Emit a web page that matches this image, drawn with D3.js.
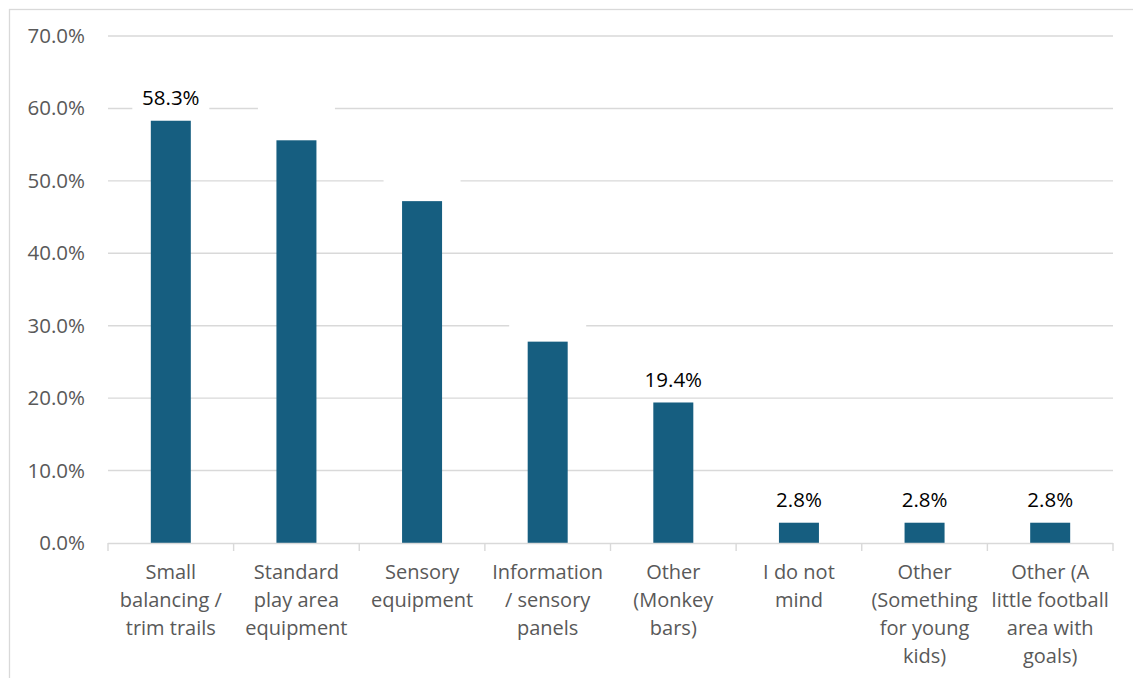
<!DOCTYPE html>
<html><head><meta charset="utf-8">
<script src="https://cdn.jsdelivr.net/npm/d3@7"></script>
<style>body{margin:0;background:#fff;} svg{display:block;}</style>
</head><body>
<svg id="chart" width="1133" height="678"></svg>
<script>
const categories = [
  "Small\nbalancing /\ntrim trails",
  "Standard\nplay area\nequipment",
  "Sensory\nequipment",
  "Information\n/ sensory\npanels",
  "Other\n(Monkey\nbars)",
  "I do not\nmind",
  "Other\n(Something\nfor young\nkids)",
  "Other (A\nlittle football\narea with\ngoals)"
];
const values = [0.583, 0.556, 0.472, 0.278, 0.194, 0.028, 0.028, 0.028];
const showLabel = [true, false, false, false, true, true, true, true];
const yTicks = [0, 0.1, 0.2, 0.3, 0.4, 0.5, 0.6, 0.7];

const FONT = "'Open Sans', sans-serif";
const svg = d3.select("#chart");
const W = 1133, H = 678;

svg.append("rect").attr("x", 9.5).attr("y", 9.5).attr("width", W).attr("height", H)
  .attr("fill", "#fff").attr("stroke", "#d9d9d9").attr("stroke-width", 1.3);

const x = d3.scaleBand().domain(categories).range([108, 1113])
  .paddingInner(0.6816).paddingOuter(0.3408);
const y = d3.scaleLinear().domain([0, 0.7]).range([543, 36]);

// gridlines
svg.append("g").selectAll("line").data(yTicks.filter(d => d > 0)).join("line")
  .attr("x1", 108).attr("x2", 1113)
  .attr("y1", d => y(d)).attr("y2", d => y(d))
  .attr("stroke", "#d9d9d9").attr("stroke-width", 1.4);

// y tick labels
const yAxis = d3.axisLeft(y).tickValues(yTicks).tickFormat(d3.format(".1%")).tickSize(0).tickPadding(0);
const ga = svg.append("g").attr("transform", "translate(85,0)").call(yAxis);
ga.select(".domain").remove();
ga.selectAll("text").attr("font-family", FONT).attr("font-size", 20.5).attr("fill", "#595959");

// label boxes (white background behind data labels)
const step = x.step();
svg.append("g").selectAll("rect").data(values).join("rect")
  .attr("x", (d, i) => x(categories[i]) + x.bandwidth() / 2 - 38.5)
  .attr("y", d => y(d) - 23 - 13)
  .attr("width", 77).attr("height", 26).attr("fill", "#fff");

// bars
svg.append("g").selectAll("rect").data(values).join("rect")
  .attr("x", (d, i) => x(categories[i]))
  .attr("y", d => y(d))
  .attr("width", x.bandwidth())
  .attr("height", d => y(0) - y(d))
  .attr("fill", "#165e80");

// x axis line and ticks
svg.append("line").attr("x1", 108).attr("x2", 1113).attr("y1", 543.5).attr("y2", 543.5)
  .attr("stroke", "#d9d9d9").attr("stroke-width", 1.4);
const edges = d3.range(categories.length + 1).map(i => 108 + i * step);
svg.append("g").selectAll("line").data(edges).join("line")
  .attr("x1", d => d).attr("x2", d => d).attr("y1", 543).attr("y2", 551)
  .attr("stroke", "#d9d9d9").attr("stroke-width", 1.4);

// category labels
const cl = svg.append("g").selectAll("text").data(categories).join("text")
  .attr("x", d => x(d) + x.bandwidth() / 2)
  .attr("y", 572)
  .attr("text-anchor", "middle")
  .attr("font-family", FONT).attr("font-size", 20).attr("fill", "#595959");
cl.each(function(d) {
  const t = d3.select(this);
  d.split("\n").forEach((line, i) => {
    t.append("tspan").attr("x", x(d) + x.bandwidth() / 2).attr("y", 572 + i * 28)
      .attr("dy", "0.35em").text(line);
  });
});

// data labels
svg.append("g").selectAll("text").data(values).join("text")
  .attr("x", (d, i) => x(categories[i]) + x.bandwidth() / 2)
  .attr("y", d => y(d) - 23)
  .attr("dy", "0.35em")
  .attr("text-anchor", "middle")
  .attr("font-family", FONT).attr("font-size", 20.5).attr("fill", "#000")
  .text((d, i) => showLabel[i] ? d3.format(".1%")(d) : "");
</script>
</body></html>
